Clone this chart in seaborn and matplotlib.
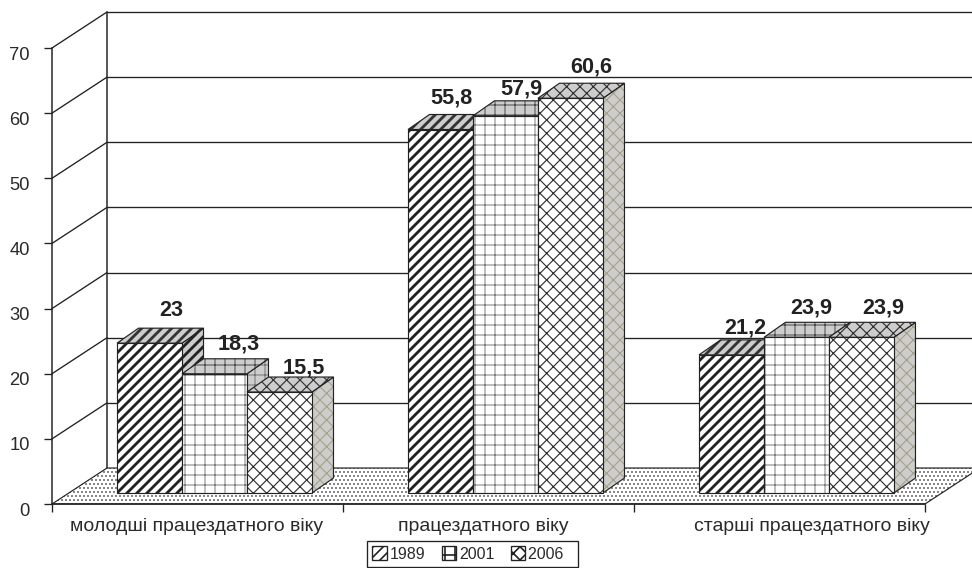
import matplotlib
matplotlib.use("Agg")

import pandas as pd
import matplotlib.pyplot as plt
import matplotlib.transforms as mtransforms
import seaborn as sns

from matplotlib.patches import Polygon

groups = ["молодші працездатного віку", "працездатного віку", "старші працездатного віку"]
years = ["1989", "2001", "2006"]
values_1989 = [23, 55.8, 21.2]
values_2001 = [18.3, 57.9, 23.9]
values_2006 = [15.5, 60.6, 23.9]
value_labels = [["23", "55,8", "21,2"], ["18,3", "57,9", "23,9"], ["15,5", "60,6", "23,9"]]
y_ticks = [0, 10, 20, 30, 40, 50, 60, 70]

W, H, DPI = 972, 568, 120
INK = "#222222"
SHADE = "#cdcdcd"
HATCHES = ["////", "++", "\\\\\\///"]
HATCH_LW = [1.7, 0.5, 0.7]
FRONT_HATCH = ["#222222", "#666666", "#333333"]
SIDE_HATCH = ["#222222", "#666666", "#a8a288"]
# label nudges in pixels, the original labels were placed by hand
LABEL_NUDGE = [[(0, 1), (-11, 0), (-8, -4)], [(3, -1), (-6, -4), (-7, -2)], [(3, -7), (-1, 0), (0, -2)]]


def px_axes(fig, left, right, bottom, top):
    return fig.add_axes([left / W, 1 - bottom / H, (right - left) / W, (bottom - top) / H])


def shift(label, dx, dy):
    label.set_transform(label.get_transform() + mtransforms.Affine2D().translate(dx, dy))


def hatched(ax, pts, color, hatch, hatch_lw, hatch_color, zorder):
    # hatch takes the edge colour, so the outline goes on as a second patch
    fill = Polygon(pts, closed=True, facecolor=color, edgecolor=hatch_color, hatch=hatch,
                   linewidth=0, clip_on=False, zorder=zorder)
    if hasattr(fill, "set_hatch_linewidth"):
        fill.set_hatch_linewidth(hatch_lw)
    ax.add_patch(fill)
    ax.add_patch(Polygon(pts, closed=True, fill=False, edgecolor=INK, linewidth=0.7,
                         clip_on=False, zorder=zorder + 0.01))


sns.set_theme(style="white")
plt.rcParams["font.family"] = ["Liberation Sans", "DejaVu Sans"]

df = pd.DataFrame({
    "group": groups * 3,
    "year": [y for y in years for _ in groups],
    "value": values_1989 + values_2001 + values_2006,
})

fig = plt.figure(figsize=(W / DPI, H / DPI), dpi=DPI, facecolor="white")

# front plane holds the axes, the walls and the floor
ax = px_axes(fig, 52, 925, 504, 48)
ax.set_xlim(0, 3)
ax.set_ylim(0, 70)
ax.patch.set_alpha(0)
sns.despine(ax=ax)
for side in ["left", "bottom"]:
    ax.spines[side].set_color(INK)
    ax.spines[side].set_linewidth(0.9)

depth_x = 55 / 291
depth_y = 36 / 6.514

floor = [(0, 0), (3, 0), (3 + depth_x, depth_y), (depth_x, depth_y)]
hatched(ax, floor, "white", ".....", 0.4, "#111111", 1)

for v in y_ticks[1:]:
    ax.plot([0, depth_x], [v, v + depth_y], color=INK, lw=0.8, clip_on=False, zorder=1.5)
    ax.plot([depth_x, 3 + depth_x + 0.2], [v + depth_y] * 2, color=INK, lw=0.8, clip_on=False, zorder=1.5)
ax.plot([depth_x, depth_x], [depth_y, 70 + depth_y], color=INK, lw=0.9, clip_on=False, zorder=1.5)

ax.set_yticks(y_ticks)
ax.set_xticks([0, 1, 2, 3])
ax.set_xticklabels([])
ax.set_xticks([0.5, 1.5, 2.5], labels=groups, minor=True)
ax.tick_params(axis="both", which="major", length=4.8, width=0.8, color=INK, left=True, bottom=True)
ax.tick_params(axis="x", which="minor", length=0, pad=8.5, labelsize=11.6, labelcolor="#2a2a2a")
ax.tick_params(axis="y", which="major", labelsize=11, labelcolor="#2a2a2a", pad=8.5)
for lab in ax.get_yticklabels():
    shift(lab, 0, -5)
for lab, dx in zip(ax.get_xticklabels(minor=True), [-1, -5, 32]):
    shift(lab, dx, 0)

# bars stand on the floor, a bit behind the front plane
ax_bar = px_axes(fig, 69, 942, 493, 37)
ax_bar.patch.set_alpha(0)
sns.barplot(data=df, x="group", y="value", hue="year", order=groups, hue_order=years,
            palette=["white"] * 3, saturation=1, width=0.67, gap=0, edgecolor=INK,
            linewidth=0, legend=False, ax=ax_bar)
ax_bar.set_xlim(-0.5, 2.5)
ax_bar.set_ylim(0, 70)
ax_bar.set_axis_off()

bar_dx = 21.5 / 291
bar_dy = 15 / 6.514

for i, container in enumerate(ax_bar.containers):
    for j, bar in enumerate(container):
        x0, x1, h = bar.get_x(), bar.get_x() + bar.get_width(), bar.get_height()
        z = 3 + i
        bar.set_hatch(HATCHES[i])
        bar.set_edgecolor(FRONT_HATCH[i])
        bar.set_zorder(z + 0.5)
        if hasattr(bar, "set_hatch_linewidth"):
            bar.set_hatch_linewidth(HATCH_LW[i])
        ax_bar.add_patch(Polygon([(x0, 0), (x1, 0), (x1, h), (x0, h)], closed=True, fill=False,
                                 edgecolor=INK, linewidth=0.7, clip_on=False, zorder=z + 0.6))
        top = [(x0, h), (x1, h), (x1 + bar_dx, h + bar_dy), (x0 + bar_dx, h + bar_dy)]
        right = [(x1, 0), (x1 + bar_dx, bar_dy), (x1 + bar_dx, h + bar_dy), (x1, h)]
        hatched(ax_bar, right, SHADE, HATCHES[i], HATCH_LW[i], SIDE_HATCH[i], z)
        hatched(ax_bar, top, SHADE, HATCHES[i], HATCH_LW[i], "#333333", z + 0.2)
        ax_bar.annotate(value_labels[i][j], ((x0 + x1) / 2 + bar_dx, h + bar_dy + 2.5),
                        xytext=LABEL_NUDGE[i][j], textcoords="offset pixels",
                        ha="center", va="center", fontsize=13, fontweight="bold",
                        color=INK, zorder=10)

handles = [c[0] for c in ax_bar.containers]
leg = fig.legend(handles, years[:-1] + [years[-1] + "  "], ncol=3, loc="center",
                 bbox_to_anchor=(472.5 / W, 1 - 554 / H),
                 frameon=True, fancybox=False, edgecolor=INK, framealpha=1, fontsize=9.6,
                 handlelength=0.9, handleheight=0.9, handletextpad=0.2, columnspacing=1.0,
                 borderpad=0.34, labelcolor="#2a2a2a")
leg.get_frame().set_linewidth(0.8)
for h in leg.legend_handles:
    h.set_edgecolor(INK)
    h.set_linewidth(0.8)

fig.savefig("out.png", dpi=DPI)
